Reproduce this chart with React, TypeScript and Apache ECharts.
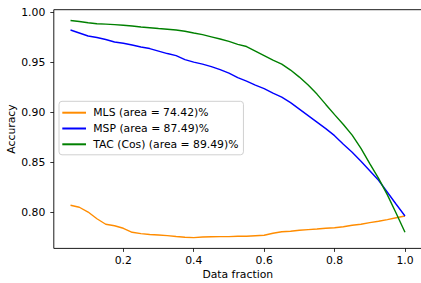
import React, { useEffect, useRef } from "react";
import * as echarts from "echarts";

const fractions = [
  0.05, 0.075, 0.1, 0.125, 0.15, 0.175, 0.2, 0.225, 0.25, 0.275, 0.3, 0.325, 0.35, 0.375,
  0.4, 0.425, 0.45, 0.475, 0.5, 0.525, 0.55, 0.575, 0.6, 0.625, 0.65, 0.675, 0.7, 0.725,
  0.75, 0.775, 0.8, 0.825, 0.85, 0.875, 0.9, 0.925, 0.95, 0.975, 1.0,
];

const mls = [
  0.807, 0.805, 0.8002, 0.7935, 0.788, 0.7865, 0.784, 0.78, 0.7787, 0.7778, 0.7773, 0.7767,
  0.7758, 0.775, 0.7747, 0.7753, 0.7755, 0.7757, 0.7757, 0.776, 0.776, 0.7765, 0.777, 0.779,
  0.7805, 0.781, 0.782, 0.7827, 0.7833, 0.784, 0.7845, 0.7855, 0.787, 0.788, 0.7897, 0.791,
  0.7927, 0.7945, 0.7963,
];

const msp = [
  0.982, 0.979, 0.976, 0.9745, 0.9725, 0.97, 0.9688, 0.967, 0.965, 0.9635, 0.961, 0.9585,
  0.9565, 0.9525, 0.95, 0.948, 0.9455, 0.9425, 0.939, 0.9345, 0.931, 0.927, 0.9235, 0.919,
  0.915, 0.9095, 0.903, 0.8965, 0.89, 0.8835, 0.8765, 0.868, 0.86, 0.851, 0.8415, 0.832,
  0.82, 0.808, 0.7963,
];

const tac = [
  0.9915, 0.9905, 0.9893, 0.9883, 0.9879, 0.9874, 0.9868, 0.986, 0.985, 0.9843, 0.9835,
  0.9828, 0.982, 0.9808, 0.979, 0.9774, 0.9752, 0.973, 0.9707, 0.9677, 0.9655, 0.961,
  0.9565, 0.952, 0.948, 0.942, 0.935, 0.927, 0.918, 0.9077, 0.8975, 0.8877, 0.877, 0.8637,
  0.8486, 0.8338, 0.8174, 0.799, 0.78,
];

const seriesNames = [
  "MLS (area = 74.42)%",
  "MSP (area = 87.49)%",
  "TAC (Cos) (area = 89.49)%",
];
const seriesColors = ["#ff8c00", "#0000ff", "#008000"];

const xTicks = [0.2, 0.4, 0.6, 0.8, 1.0];
const yTicks = [0.8, 0.85, 0.9, 0.95, 1.0];

const FONT = "DejaVu Sans";
const FS = 10.8;

export default function App() {
  const ref = useRef<HTMLDivElement>(null);
  useEffect(() => {
    if (!ref.current) return;
    const chart = echarts.init(ref.current, null, { renderer: "svg" });
    const allSeries = [mls, msp, tac];
    chart.setOption({
      animation: false,
      backgroundColor: "#ffffff",
      textStyle: { fontFamily: FONT },
      grid: {
        left: 53.8,
        top: 9.7,
        width: 367.9,
        height: 238.7,
        show: true,
        borderColor: "#000",
        borderWidth: 0.9,
        backgroundColor: "transparent",
        containLabel: false,
        outerBoundsMode: "none",
      },
      legend: {
        orient: "vertical",
        left: 59,
        top: 101.3,
        padding: [4.9, 5, 4, 3.3],
        itemGap: 2.8,
        itemWidth: 23.7,
        itemHeight: 2,
        icon: "rect",
        borderColor: "#d0d0d0",
        borderWidth: 1,
        borderRadius: 3,
        backgroundColor: "rgba(255,255,255,0.8)",
        textStyle: {
          fontFamily: FONT,
          fontSize: FS,
          color: "#000",
          lineHeight: 13,
          padding: [0, 0, 0, 2.3],
        },
        data: seriesNames,
      },
      xAxis: {
        type: "value",
        min: 0.0025,
        max: 1.0475,
        name: "Data fraction",
        nameLocation: "middle",
        nameGap: 20.5,
        nameMoveOverlap: false,
        nameTextStyle: { fontFamily: FONT, fontSize: FS, color: "#000" },
        axisLine: { show: false },
        splitLine: { show: false },
        axisTick: {
          show: true,
          length: 3.5,
          customValues: xTicks,
          lineStyle: { color: "#000", width: 0.8 },
        },
        axisLabel: {
          customValues: xTicks,
          fontFamily: FONT,
          fontSize: FS,
          color: "#000",
          margin: 6.5,
          formatter: (v: number) => v.toFixed(1),
        },
      },
      yAxis: {
        type: "value",
        min: 0.7639,
        max: 1.0023,
        name: "Accuracy",
        nameLocation: "middle",
        nameRotate: 90,
        nameGap: 36.5,
        nameMoveOverlap: false,
        nameTextStyle: { fontFamily: FONT, fontSize: FS, color: "#000" },
        axisLine: { show: false },
        splitLine: { show: false },
        axisTick: {
          show: true,
          length: 3.5,
          customValues: yTicks,
          lineStyle: { color: "#000", width: 0.8 },
        },
        axisLabel: {
          customValues: yTicks,
          fontFamily: FONT,
          fontSize: FS,
          color: "#000",
          margin: 8.5,
          formatter: (v: number) => v.toFixed(2),
        },
      },
      series: allSeries.map((vals, i) => ({
        type: "line",
        name: seriesNames[i],
        data: fractions.map((x, j) => [x, vals[j]]),
        showSymbol: false,
        symbol: "none",
        color: seriesColors[i],
        lineStyle: { color: seriesColors[i], width: 1.4 },
        itemStyle: { color: seriesColors[i] },
      })),
    });
    return () => chart.dispose();
  }, []);
  return (
    <div
      ref={ref}
      style={{ position: "fixed", left: 0, top: 0, width: 421, height: 283 }}
    />
  );
}
